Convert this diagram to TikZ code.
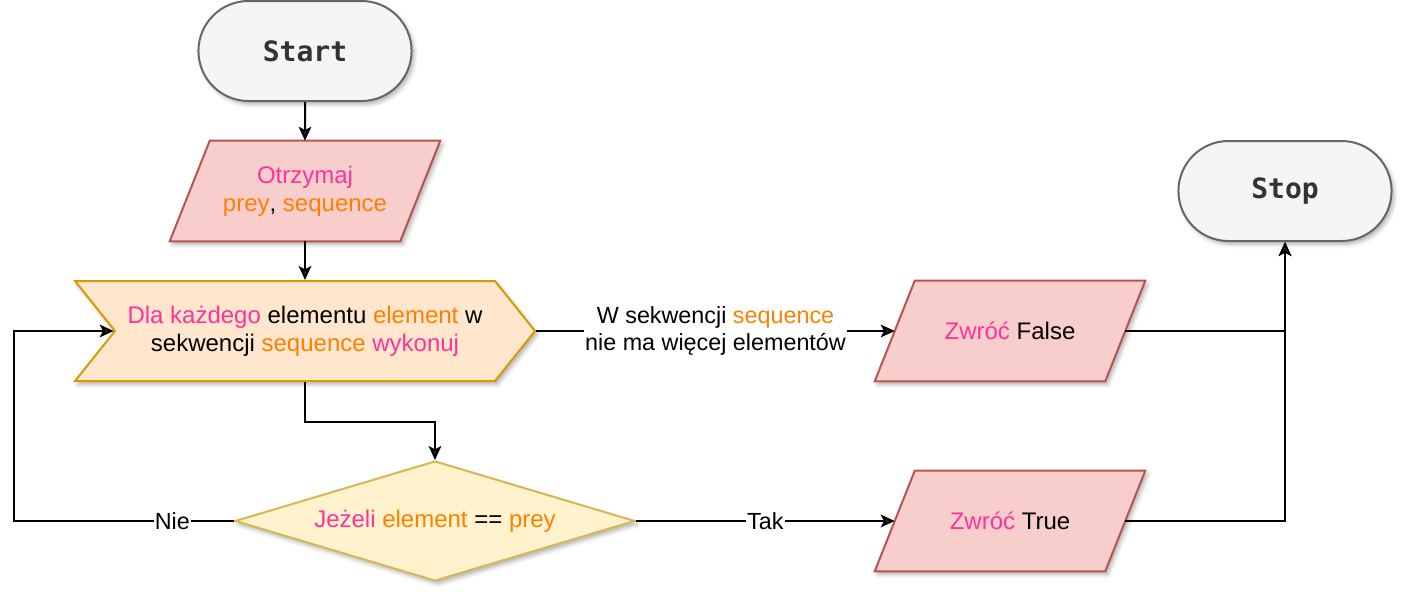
\documentclass[tikz,border=0pt]{standalone}
\usepackage{fontspec}
\setmainfont{Liberation Sans}
\newfontfamily\termfont{DejaVu Sans Mono}
\usetikzlibrary{arrows.meta,shapes.geometric,shapes.misc,shapes.symbols,shadows.blur}
\definecolor{kwdPink}{HTML}{FF3399}
\definecolor{varOrange}{HTML}{FF8000}
\definecolor{termFill}{HTML}{F5F5F5}
\definecolor{termLine}{HTML}{666666}
\definecolor{termText}{HTML}{333333}
\definecolor{ioFill}{HTML}{F8CECC}
\definecolor{ioLine}{HTML}{B85450}
\definecolor{loopFill}{HTML}{FFE6CC}
\definecolor{loopLine}{HTML}{D79B00}
\definecolor{condFill}{HTML}{FFF2CC}
\definecolor{condLine}{HTML}{D6B656}
\newcommand{\kwd}[1]{\textcolor{kwdPink}{#1}}
\newcommand{\varn}[1]{\textcolor{varOrange}{#1}}
\begin{document}
\begin{tikzpicture}
[x=0.75pt,y=-0.75pt,font=\fontsize{18}{21}\selectfont,
  shadowDecorate/.style={blur shadow={shadow xshift=2pt,shadow yshift=-2.5pt,shadow blur radius=3pt,shadow opacity=30}},
  termDecorate/.style={shape=rounded rectangle,draw=termLine,fill=termFill,line width=1.5pt,
    minimum width=166.5pt,minimum height=75pt,text=termText,
    font=\termfont\bfseries\fontsize{21}{25}\selectfont,shadowDecorate},
  ioDecorate/.style={shape=rectangle,inner sep=0pt,minimum width=142.5pt,minimum height=75pt},
  ioShape/.style={draw=ioLine,fill=ioFill,line width=1.5pt,line join=miter,shadowDecorate},
  loopDecorate/.style={shape=signal,signal from=west,signal to=east,signal pointer angle=102.7,
    draw=loopLine,fill=loopFill,line width=1.5pt,minimum width=345pt,minimum height=75pt,
    align=center,shadowDecorate},
  condDecorate/.style={shape=diamond,aspect=3.33,inner sep=0pt,draw=condLine,fill=condFill,
    line width=1.5pt,minimum width=300pt,minimum height=90pt,shadowDecorate},
  lineDecorate/.style={-{Stealth[length=10.5pt,width=9.5pt,inset=2.5pt]},line width=1.5pt},
  labelDecorate/.style={fill=white,inner sep=1pt,align=center,font=\fontsize{17.5}{20}\selectfont}]
\useasboundingbox (0,0) rectangle (1418,604);
%% nodes
\foreach \nodename/\x/\y/\nodetext in {
  start/305/51/Start, stop/1285/191/Stop}
{
  \node (\nodename) at (\x,\y) [termDecorate] {\nodetext};
}
\foreach \nodename/\x/\y/\nodetext in {
  input/305/191/{\kwd{Otrzymaj}\\\varn{prey}, \varn{sequence}},
  false/1010/331/{\kwd{Zwróć} False}, true/1010/521/{\kwd{Zwróć} True}}
{
  \node (\nodename) at (\x,\y) [ioDecorate] {};
  \path[ioShape] (\nodename.north west) -- ([xshift=30pt]\nodename.north east)
    -- (\nodename.south east) -- ([xshift=-30pt]\nodename.south west) -- cycle;
  \node (\nodename-text) at (\nodename) [align=center] {\nodetext};
}
\node (loop) at (305,331) [loopDecorate]
  {\kwd{Dla każdego} elementu \varn{element} w\\sekwencji \varn{sequence} \kwd{wykonuj}};
\node (cond) at (435,521) [condDecorate]
  {\kwd{Jeżeli} \varn{element} == \varn{prey}};
%% edges
\foreach \startnode/\endnode in {start/input, input/loop}
{
  \draw[lineDecorate] (\startnode) -- (\endnode);
}
\draw[lineDecorate] (loop.south) -- ++(0,40) -| (cond.north);
\draw[lineDecorate] (loop.east) -- node[labelDecorate]
  {W sekwencji \varn{sequence}\\nie ma więcej elementów} ([xshift=-15pt]false.west);
\draw[lineDecorate] (cond.east) -- node[labelDecorate] {Tak} ([xshift=-15pt]true.west);
\draw[lineDecorate] (cond.west) -- node[labelDecorate,pos=0.28] {Nie} ++(-220,0)
  |- (loop.west);
\draw[lineDecorate] ([xshift=15pt]false.east) -| (stop.south);
\draw[lineDecorate] ([xshift=15pt]true.east) -| (stop.south);
\end{tikzpicture}
\end{document}
